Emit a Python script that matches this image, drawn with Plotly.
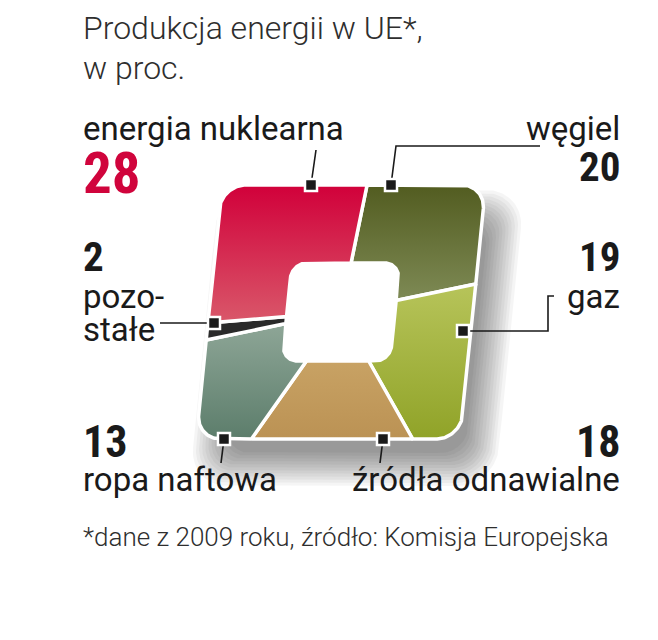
import numpy as np
import plotly.graph_objects as go

# ---------------- data ----------------
categories = ["węgiel", "gaz", "źródła odnawialne", "ropa naftowa", "pozostałe", "energia nuklearna"]
values = [20, 19, 18, 13, 2, 28]
title_lines = ["Produkcja energii w UE*,", "w proc."]
footnote = "*dane z 2009 roku, źródło: Komisja Europejska"

# ---------------- styles ----------------
col_top = ["#525c20", "#b7c45a", "#c8a264", "#8ea697", "#2a2a2a", "#d1003a"]
col_bot = ["#7e8a55", "#90a328", "#bb9254", "#5c7d6b", "#2a2a2a", "#d9586a"]

CX, CY = 341.0, 312.0
OUT_A, OUT_B, OUT_R = 132.0, 127.0, 24.0
IN_A, IN_B, IN_R = 54.0, 49.0, 15.0
SKEW = 0.1
START = 6.0


def rr_point(theta_deg, a, b, rho):
    """Ray from centre (angle clockwise from top) meets a rounded rectangle."""
    th = np.atleast_1d(np.asarray(theta_deg, dtype=float))
    xs, ys = [], []
    for t in np.radians(th):
        dx, dy = np.sin(t), -np.cos(t)
        tt = min(a / abs(dx) if abs(dx) > 1e-12 else np.inf,
                 b / abs(dy) if abs(dy) > 1e-12 else np.inf)
        px, py = tt * dx, tt * dy
        if abs(px) > a - rho and abs(py) > b - rho:
            cx, cy = np.sign(px) * (a - rho), np.sign(py) * (b - rho)
            bb = dx * cx + dy * cy
            cc = cx * cx + cy * cy - rho * rho
            tt = bb + np.sqrt(max(bb * bb - cc, 0.0))
            px, py = tt * dx, tt * dy
        xs.append(px)
        ys.append(py)
    return np.array(xs), np.array(ys)


def to_px(x, y, ox=0.0, oy=0.0):
    return CX + ox + x - SKEW * y, CY + oy + y


def ring(a, b, rho, ox=0.0, oy=0.0):
    th = np.linspace(0, 360, 721)
    x, y = rr_point(th, a, b, rho)
    return to_px(x, y, ox, oy)


fig = go.Figure()

# soft shadow
for k in range(12):
    g = k - 4
    sx, sy = ring(OUT_A + 3 * g, OUT_B + 3 * g, OUT_R + max(g, 0) * 2, ox=16, oy=26)
    fig.add_trace(go.Scatter(x=sx, y=sy, mode="lines", fill="toself",
                             fillcolor="rgba(0,0,0,0.038)", line=dict(width=0),
                             hoverinfo="skip", showlegend=False))
hx, hy = ring(IN_A + 6, IN_B + 6, IN_R + 4)
fig.add_trace(go.Scatter(x=hx, y=hy, mode="lines", fill="toself", fillcolor="white",
                         line=dict(width=0), hoverinfo="skip", showlegend=False))

# segments
total = float(sum(values))
cum = START
for i, (cat, v) in enumerate(zip(categories, values)):
    t0, t1 = cum, cum + 360.0 * v / total
    cum = t1
    th = np.linspace(t0, t1, max(3, int((t1 - t0) * 3)))
    ox_, oy_ = rr_point(th, OUT_A, OUT_B, OUT_R)
    ix_, iy_ = rr_point(th[::-1], IN_A, IN_B, IN_R)
    xs = np.concatenate([ox_, ix_, ox_[:1]])
    ys = np.concatenate([oy_, iy_, oy_[:1]])
    px, py = to_px(xs, ys)
    fig.add_trace(go.Scatter(
        x=px, y=py, mode="lines", fill="toself",
        fillgradient=dict(type="vertical", colorscale=[[0, col_bot[i]], [1, col_top[i]]]),
        line=dict(color="white", width=3.5), name=cat, hoverinfo="name", showlegend=False))

# callouts: leader path ending at the marker point (pixels)
callouts = {
    "energia nuklearna": [(316, 150), (311, 185)],
    "węgiel": [(540, 146), (396, 146), (391, 185)],
    "gaz": [(554, 296), (548, 296), (548, 331), (463, 331)],
    "pozostałe": [(160, 323), (214, 323)],
    "ropa naftowa": [(221, 463), (224, 439)],
    "źródła odnawialne": [(380, 463), (383, 439)],
}
for cat in categories:
    pts = callouts[cat]
    fig.add_trace(go.Scatter(x=[p[0] for p in pts], y=[p[1] for p in pts], mode="lines",
                             line=dict(color="#1a1a1a", width=1.6), hoverinfo="skip",
                             showlegend=False))
fig.add_trace(go.Scatter(
    x=[callouts[c][-1][0] for c in categories], y=[callouts[c][-1][1] for c in categories],
    mode="markers", marker=dict(symbol="square", size=12, color="#1a1a1a",
                                line=dict(color="white", width=2.5)),
    hoverinfo="skip", showlegend=False))

LABEL_FONT = dict(family="Roboto, Open Sans, sans-serif", size=33, color="#1a1a1a")
NUM_FAMILY = "Liberation Sans Narrow, Roboto Condensed, Roboto, sans-serif"
LIGHT_FONT = dict(family="Roboto, Open Sans, sans-serif", size=32, color="#2e2e2e", weight=300)

val = dict(zip(categories, values))
ann = []


def add(text, x, y, xa, font):
    ann.append(dict(text=text, x=x, y=y, xref="x", yref="y", xanchor=xa, yanchor="middle",
                    showarrow=False, font=font))


add(title_lines[0], 81, 28, "left", LIGHT_FONT)
add(title_lines[1], 81, 68, "left", LIGHT_FONT)
add("energia nuklearna", 81, 128, "left", LABEL_FONT)
add(str(val["energia nuklearna"]), 81, 173, "left",
    dict(family=NUM_FAMILY, size=57, color="#d0043c", weight=700))
add("węgiel", 622, 128, "right", LABEL_FONT)
add(str(val["węgiel"]), 622, 167, "right", dict(family=NUM_FAMILY, size=41, color="#1a1a1a", weight=700))
add(str(val["pozostałe"]), 81, 257, "left", dict(family=NUM_FAMILY, size=41, color="#1a1a1a", weight=700))
add("pozo-", 81, 296, "left", LABEL_FONT)
add("stałe", 81, 329, "left", LABEL_FONT)
add(str(val["gaz"]), 622, 257, "right", dict(family=NUM_FAMILY, size=41, color="#1a1a1a", weight=700))
add("gaz", 622, 296, "right", LABEL_FONT)
add(str(val["ropa naftowa"]), 81, 442, "left", dict(family=NUM_FAMILY, size=44, color="#1a1a1a", weight=700))
add("ropa naftowa", 81, 479, "left", LABEL_FONT)
add(str(val["źródła odnawialne"]), 622, 442, "right", dict(family=NUM_FAMILY, size=44, color="#1a1a1a", weight=700))
add("źródła odnawialne", 622, 479, "right", LABEL_FONT)
add(footnote, 81, 537, "left", dict(family="Roboto, Open Sans, sans-serif", size=26, color="#2e2e2e", weight=300))

# page body has an 8px margin: the figure starts at page pixel 8
fig.update_layout(
    width=650, height=632, margin=dict(l=0, r=0, t=0, b=0),
    paper_bgcolor="white", plot_bgcolor="white",
    xaxis=dict(range=[8, 658], visible=False, fixedrange=True),
    yaxis=dict(range=[640, 8], visible=False, fixedrange=True),
    annotations=ann, showlegend=False,
)
fig.write_html("out.html")
